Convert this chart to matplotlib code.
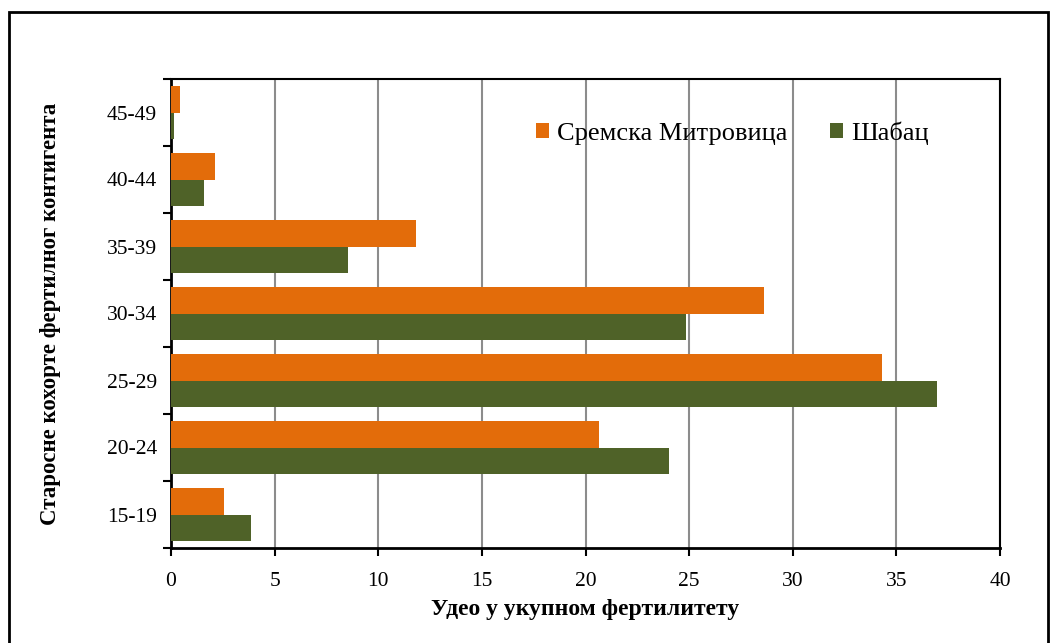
import matplotlib.pyplot as plt
import numpy as np
from matplotlib.patches import Rectangle

# starosne grupe i udeli (%)
groups = ["15-19", "20-24", "25-29", "30-34", "35-39", "40-44", "45-49"]
sremska = [2.56, 20.65, 34.3, 28.6, 11.8, 2.1, 0.43]
sabac = [3.86, 24.03, 36.95, 24.85, 8.55, 1.6, 0.15]
series_names = ["Сремска Митровица", "Шабац"]
xticks = [0, 5, 10, 15, 20, 25, 30, 35, 40]

plt.rcParams['font.family'] = ['Liberation Serif', 'DejaVu Serif']

fig = plt.figure(figsize=(10.51, 6.43), dpi=100)
ax = fig.add_axes([171/1051, 1-548/643, 829/1051, 469/643])

y = np.arange(len(groups))
h = 0.39
ax.barh(y + h/2, sremska, height=h, color='#E36C0A', label=series_names[0], zorder=3)
ax.barh(y - h/2, sabac, height=h, color='#4F6228', label=series_names[1], zorder=3)

ax.set_xlim(0, 40)
ax.set_ylim(-0.5, len(groups) - 0.5)
ax.set_xticks(xticks)
ax.set_xticklabels([str(t) for t in xticks], fontsize=15.5)
ax.tick_params(axis='x', direction='out', length=6, width=1.5, pad=11)

ax.set_yticks(np.arange(len(groups) + 1) - 0.5)
ax.set_yticklabels([])
ax.set_yticks(y, minor=True)
ax.set_yticklabels(groups, minor=True, fontsize=15.5)
ax.tick_params(axis='y', which='major', direction='out', length=6, width=1.5)
ax.tick_params(axis='y', which='minor', length=0, pad=10)

ax.xaxis.grid(True, color='#8c8c8c', linewidth=1.5, zorder=0)
ax.set_axisbelow(True)

for s in ['left', 'bottom']:
    ax.spines[s].set_linewidth(2)
for s in ['top', 'right']:
    ax.spines[s].set_linewidth(1.5)

ax.set_xlabel("Удео у укупном фертилитету", fontsize=17, fontweight='bold', labelpad=6)
ax.set_ylabel("Старосне кохорте фертилног контигента", fontsize=16.5, fontweight='bold', labelpad=33)

ax.legend(loc='center', bbox_to_anchor=(0.677, 0.885), ncol=2, frameon=False,
          fontsize=19, handlelength=0.5, handleheight=0.5, handletextpad=0.3,
          columnspacing=1.6)

fig.patches.append(Rectangle((9/1051, -0.05), 1039/1051, 1.05 - 12/643,
                             transform=fig.transFigure, fill=False,
                             edgecolor='black', linewidth=2))

fig.savefig('out.png', dpi=100)
